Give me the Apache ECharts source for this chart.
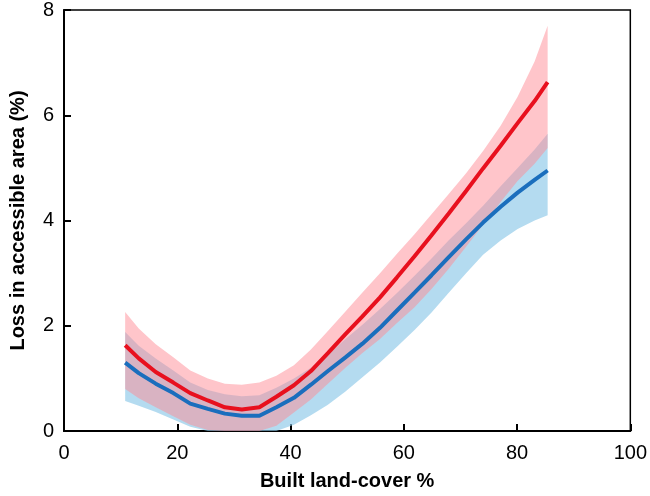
<!DOCTYPE html>
<html>
<head>
<meta charset="utf-8">
<script src="https://cdn.jsdelivr.net/npm/echarts@6/dist/echarts.min.js"></script>
<style>html,body{margin:0;padding:0;background:#fff}#c{width:650px;height:496px}</style>
</head>
<body>
<div id="c"></div>
<script>
const builtCover = [10.8, 13.2, 16.2, 19.3, 22.3, 25.4, 28.4, 31.4, 34.5, 37.5, 40.6, 43.6, 46.6, 49.7, 52.7, 55.8, 58.8, 61.9, 64.9, 67.9, 71, 74, 77.1, 80.1, 83.1, 85.4];
const redMean  = [1.63, 1.38, 1.12, 0.92, 0.72, 0.58, 0.45, 0.41, 0.45, 0.65, 0.87, 1.14, 1.48, 1.84, 2.18, 2.54, 2.92, 3.32, 3.72, 4.13, 4.56, 4.99, 5.42, 5.85, 6.27, 6.63];
const redUpper = [2.26, 1.95, 1.65, 1.40, 1.15, 1.00, 0.90, 0.88, 0.92, 1.05, 1.25, 1.55, 1.90, 2.27, 2.63, 3.00, 3.37, 3.74, 4.12, 4.50, 4.90, 5.32, 5.80, 6.35, 7.02, 7.70];
const redLower = [0.80, 0.62, 0.45, 0.28, 0.12, 0.02, 0.00, 0.00, 0.00, 0.10, 0.35, 0.60, 0.90, 1.20, 1.48, 1.75, 2.05, 2.35, 2.70, 3.08, 3.50, 3.92, 4.35, 4.75, 5.08, 5.38];
const blueMean  = [1.30, 1.10, 0.90, 0.72, 0.52, 0.42, 0.33, 0.29, 0.29, 0.45, 0.63, 0.88, 1.14, 1.40, 1.66, 1.96, 2.29, 2.63, 2.96, 3.30, 3.64, 3.96, 4.26, 4.53, 4.77, 4.95];
const blueUpper = [1.88, 1.62, 1.38, 1.15, 0.92, 0.78, 0.70, 0.66, 0.68, 0.82, 1.00, 1.20, 1.45, 1.75, 2.02, 2.32, 2.62, 2.95, 3.28, 3.62, 3.95, 4.28, 4.65, 5.00, 5.35, 5.65];
const blueLower = [0.57, 0.48, 0.36, 0.22, 0.08, 0.00, 0.00, 0.00, 0.00, 0.00, 0.12, 0.30, 0.50, 0.75, 1.02, 1.30, 1.60, 1.92, 2.25, 2.62, 3.00, 3.35, 3.62, 3.84, 4.00, 4.10];
const xTicks = [0, 20, 40, 60, 80, 100];
const yTicks = [0, 2, 4, 6, 8];

const pts = arr => arr.map((v, i) => [builtCover[i], v]);
const band = (lo, up) => builtCover.map((x, i) => [x, lo[i], up[i]]);

function bandRenderer(fill) {
  return function (params, api) {
    if (params.dataIndexInside !== 0) return null;
    const n = params.dataInsideLength;
    const top = [], bot = [];
    for (let i = 0; i < n; i++) {
      const x = api.value(0, i);
      top.push(api.coord([x, api.value(2, i)]));
      bot.push(api.coord([x, api.value(1, i)]));
    }
    const cs = params.coordSys;
    return {
      type: 'polygon',
      shape: {points: top.concat(bot.reverse())},
      style: {fill: fill},
      clipPath: {type: 'rect', shape: {x: cs.x, y: cs.y, width: cs.width, height: cs.height}}
    };
  };
}

const chart = echarts.init(document.getElementById('c'), null, {renderer: 'canvas'});
const font = 'Liberation Sans, Arial, sans-serif';
chart.setOption({
  animation: false,
  grid: {left: 62, right: 18, top: 10, bottom: 64, show: true, borderColor: '#000', borderWidth: 1.5, backgroundColor: 'transparent'},
  xAxis: {
    type: 'value', min: 0, max: 100, interval: 20,
    name: 'Built land-cover %', nameLocation: 'middle', nameGap: 40,
    nameTextStyle: {fontFamily: font, fontWeight: 'bold', fontSize: 20, color: '#000'},
    axisLine: {show: true, lineStyle: {color: '#000', width: 2}},
    axisTick: {show: true, inside: true, length: 7, lineStyle: {color: '#000', width: 2}},
    axisLabel: {fontFamily: font, fontSize: 20, color: '#000', margin: 12,
      formatter: v => xTicks.includes(v) ? String(v) : ''},
    splitLine: {show: false}
  },
  yAxis: {
    type: 'value', min: 0, max: 8, interval: 2,
    name: 'Loss in accessible area (%)', nameLocation: 'middle', nameGap: 36,
    nameTextStyle: {fontFamily: font, fontWeight: 'bold', fontSize: 20, color: '#000'},
    axisLine: {show: true, lineStyle: {color: '#000', width: 2}},
    axisTick: {show: true, inside: true, length: 7, lineStyle: {color: '#000', width: 2}},
    axisLabel: {fontFamily: font, fontSize: 20, color: '#000', margin: 10,
      formatter: v => yTicks.includes(v) ? String(v) : ''},
    splitLine: {show: false}
  },
  series: [
    {type: 'custom', data: band(blueLower, blueUpper), encode: {x: 0, y: [1, 2]},
      renderItem: bandRenderer('rgba(140,200,232,0.65)'), silent: true, z: 1},
    {type: 'custom', data: band(redLower, redUpper), encode: {x: 0, y: [1, 2]},
      renderItem: bandRenderer('rgba(255,140,150,0.5)'), silent: true, z: 2},
    {type: 'line', data: pts(redMean), symbol: 'none', lineStyle: {color: '#e8101e', width: 4}, z: 5},
    {type: 'line', data: pts(blueMean), symbol: 'none', lineStyle: {color: '#1a6ebd', width: 4}, z: 5}
  ]
});
</script>
</body>
</html>
